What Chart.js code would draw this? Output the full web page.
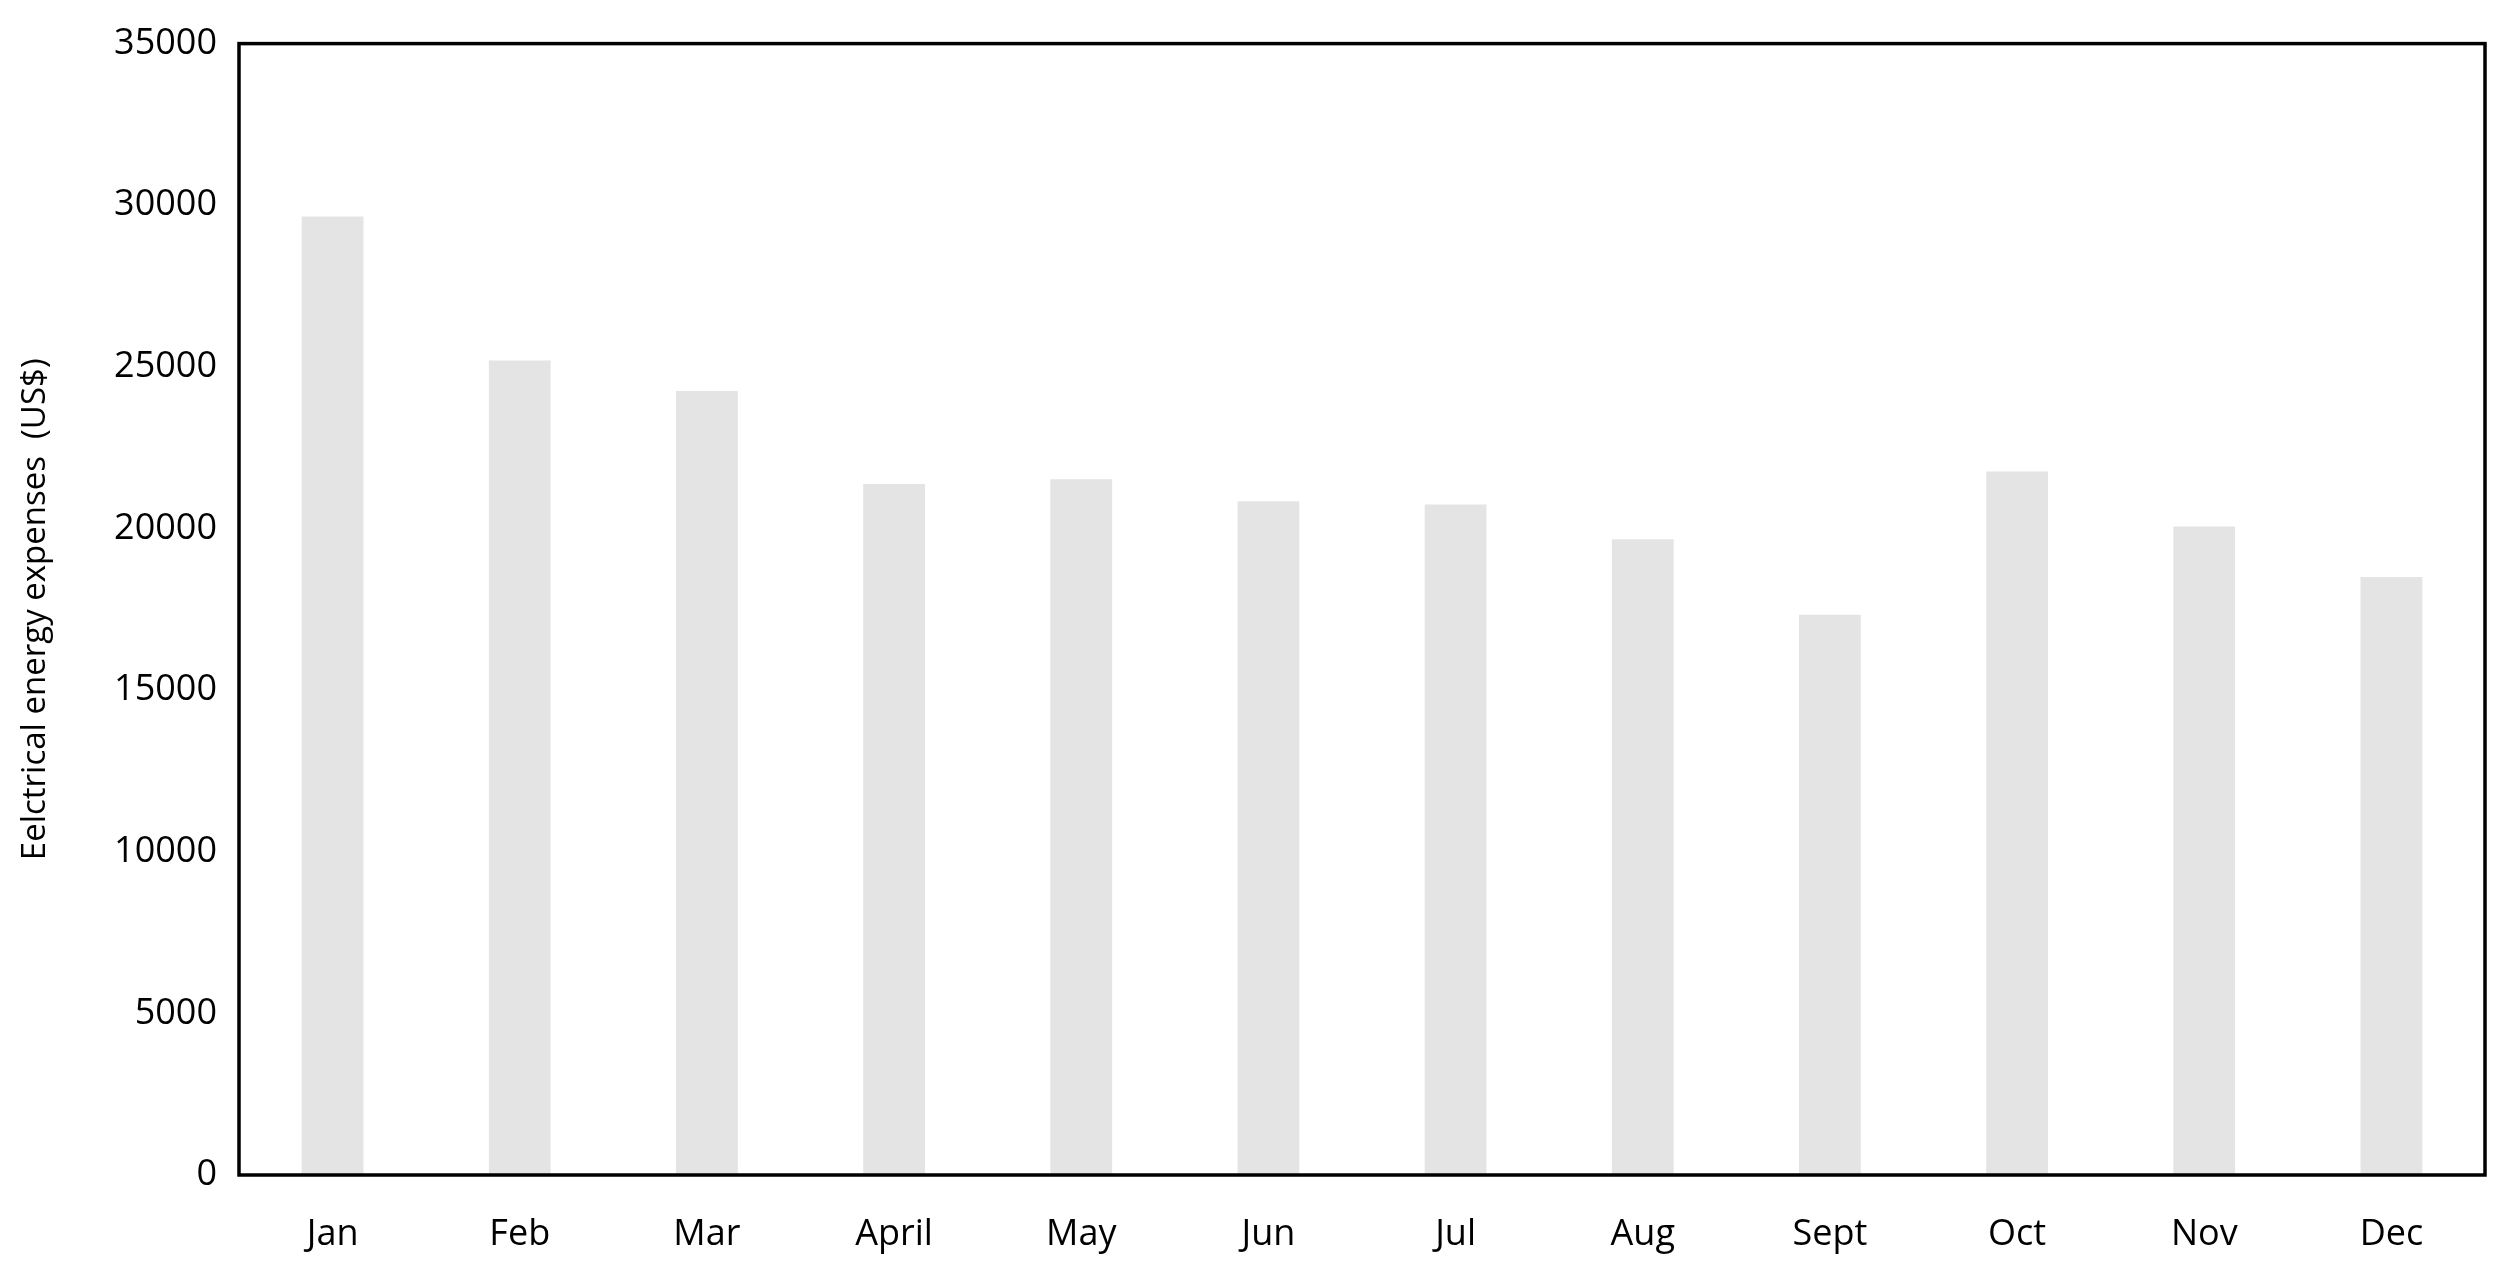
<!DOCTYPE html>
<html><head><meta charset="utf-8">
<script src="https://cdn.jsdelivr.net/npm/chart.js@4"></script>
<style>html,body{margin:0;padding:0;background:#fff}#w{width:2501px;height:1266px}</style>
</head><body><div id="w"><canvas id="c"></canvas></div>
<script>
const categories=["Jan","Feb","Mar","April","May","Jun","Jul","Aug","Sept","Oct","Nov","Dec"];
const expenses=[29650,25200,24250,21380,21520,20840,20740,19670,17330,21760,20060,18500];
const yTicks=[0,5000,10000,15000,20000,25000,30000,35000];
const font={family:"'Open Sans', 'Liberation Sans', sans-serif",size:36};
const border={id:'border',afterDraw(ch){const a=ch.chartArea,c=ch.ctx;c.save();c.strokeStyle='#000';c.lineWidth=3.5;c.strokeRect(a.left,a.top,a.right-a.left,a.bottom-a.top);c.restore();}};
new Chart(document.getElementById('c'),{type:'bar',
data:{labels:categories,datasets:[{data:expenses,backgroundColor:'#e4e4e4',categoryPercentage:1,barPercentage:0.33}]},
options:{responsive:true,maintainAspectRatio:false,animation:false,
layout:{padding:{top:29,right:16,left:12,bottom:0}},
plugins:{legend:{display:false},tooltip:{enabled:false}},
scales:{
x:{grid:{display:false,drawTicks:false},border:{display:false},ticks:{color:'#000',font,padding:38},afterFit(s){s.height=91;}},
y:{min:0,max:35000,afterBuildTicks(s){s.ticks=yTicks.map(v=>({value:v}));},
grid:{display:false,drawTicks:false},border:{display:false},ticks:{color:'#000',font,padding:22,callback:v=>String(v)},
title:{display:true,text:'Eelctrical energy expenses  (US$)',color:'#000',font:{family:font.family,size:33},padding:{bottom:10}},
afterFit(s){s.width=227;}}}},
plugins:[border]});
</script></body></html>
